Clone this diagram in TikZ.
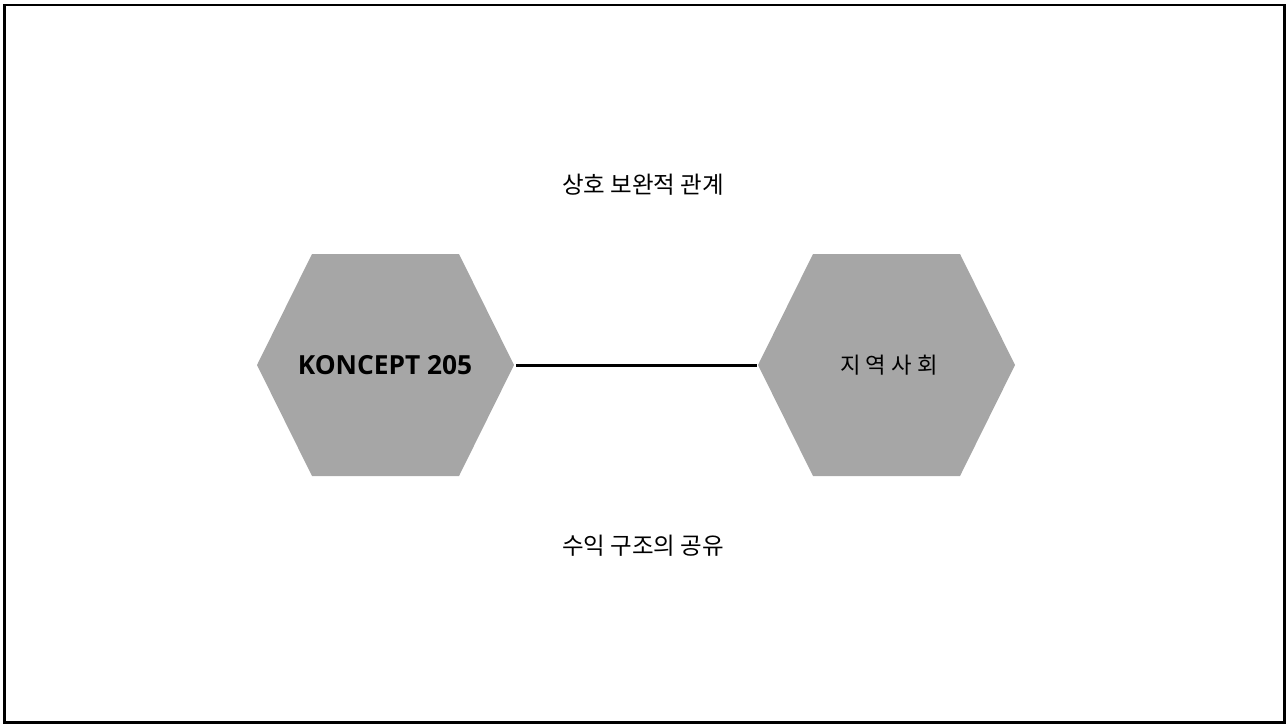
\documentclass[tikz,border=0pt]{standalone}
\usepackage{fontspec}
\newfontfamily\kr{Noto Sans CJK KR}
\newfontfamily\lat{Open Sans}
\definecolor{hexgray}{HTML}{A6A6A6}
\begin{document}
\begin{tikzpicture}[x=1pt,y=-1pt,
  hexfill/.style={fill=hexgray,draw=none},
  lbl/.style={inner sep=0pt,anchor=center,text=black},
  krtext/.style={lbl,font=\kr\fontsize{23.5}{27}\selectfont},
  conn/.style={line width=3pt,black}]
\useasboundingbox (0,0) rectangle (1288,724);
\draw[line width=2.8pt] (4.5,5) rectangle (1284.5,722.5);
% left hexagon
\fill[hexfill] (257,365) -- (312,254) -- (459,254) -- (514,365) -- (459,476) -- (312,476) -- cycle;
\coordinate (A) at (385,365);
\coordinate (Ar) at (514,365);
% right hexagon
\fill[hexfill] (758,365) -- (813,254) -- (960,254) -- (1015,365) -- (960,476) -- (813,476) -- cycle;
\coordinate (B) at (889,365);
\coordinate (Bl) at (758,365);
\node[lbl,font=\lat\bfseries\fontsize{26.3}{30}\selectfont] (ka) at (A) {KONCEPT 205};
\node[krtext,font=\kr\fontsize{22.3}{26}\selectfont] (kb) at (B) {지 역 사 회};
\draw[conn] ([xshift=2pt]Ar) -- ([xshift=-1pt]Bl);
\node[krtext] (top) at (643,185) {상호 보완적 관계};
\node[krtext] (bot) at (643,546) {수익 구조의 공유};
\end{tikzpicture}
\end{document}
